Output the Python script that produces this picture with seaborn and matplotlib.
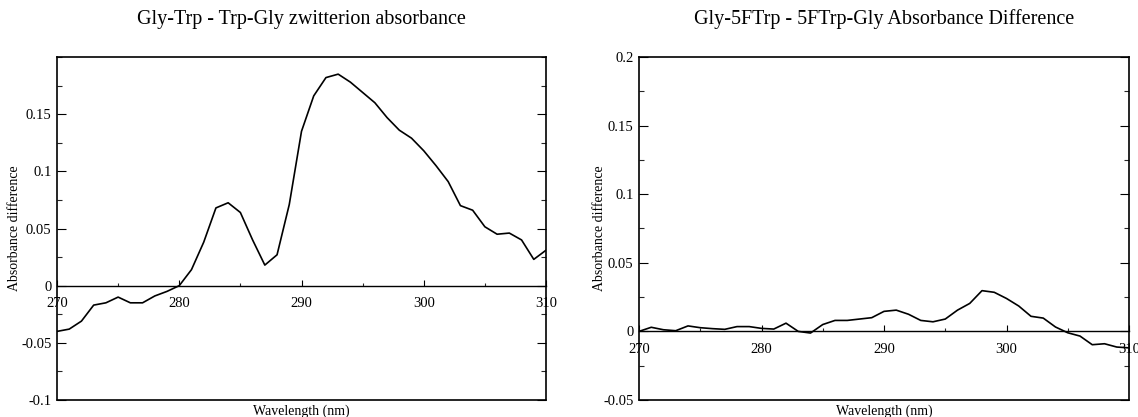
import numpy as np
import pandas as pd
import matplotlib
matplotlib.use("Agg")
import matplotlib.pyplot as plt
from matplotlib.ticker import MultipleLocator
import seaborn as sns

wavelength = list(range(270, 311))

trp_diff = [-0.040, -0.038, -0.031, -0.017, -0.015, -0.010, -0.015, -0.015, -0.009, -0.005,
            0.000, 0.014, 0.038, 0.068, 0.0725, 0.064, 0.040, 0.018, 0.027, 0.071,
            0.135, 0.166, 0.182, 0.185, 0.178, 0.169, 0.160, 0.147, 0.136, 0.129,
            0.118, 0.105, 0.091, 0.070, 0.066, 0.0515, 0.045, 0.046, 0.040, 0.023, 0.031]

ftrp_diff = [0.000, 0.003, 0.0012, 0.0005, 0.004, 0.0027, 0.002, 0.0015, 0.0035, 0.0035,
             0.0022, 0.0017, 0.006, 0.000, -0.0012, 0.005, 0.008, 0.008, 0.009, 0.010,
             0.0146, 0.0155, 0.0125, 0.008, 0.007, 0.009, 0.0155, 0.0204, 0.0297, 0.0285,
             0.024, 0.0185, 0.011, 0.0097, 0.0032, -0.001, -0.0034, -0.0097, -0.009, -0.0114, -0.012]

titles = ["Gly-Trp - Trp-Gly zwitterion absorbance",
          "Gly-5FTrp - 5FTrp-Gly Absorbance Difference"]
ylims = [(-0.1, 0.2), (-0.05, 0.2)]
yticks_major = [[-0.1, -0.05, 0, 0.05, 0.1, 0.15], [-0.05, 0, 0.05, 0.1, 0.15, 0.2]]
xticks_major = [270, 280, 290, 300, 310]

sns.set_theme(style="ticks")
plt.rcParams['font.family'] = ['Liberation Serif', 'DejaVu Serif']

fig = plt.figure(figsize=(11.38, 4.17), dpi=100)
W, H = 1138, 417
positions = [[57 / W, 17 / H, 489 / W, 343 / H], [639 / W, 17 / H, 490 / W, 343 / H]]
ylabel_x = [-0.074, -0.067]

for i, series in enumerate([trp_diff, ftrp_diff]):
    ax = fig.add_axes(positions[i])
    df = pd.DataFrame({"wl": wavelength, "val": series})
    sns.lineplot(data=df, x="wl", y="val", ax=ax, color="black", linewidth=1.2)
    ax.set_xlim(270, 310)
    ax.set_ylim(*ylims[i])
    for s in ["top", "right", "left"]:
        ax.spines[s].set_color("black")
        ax.spines[s].set_linewidth(1.2)
    ax.spines["bottom"].set_position(("data", 0))
    ax.spines["bottom"].set_color("black")
    ax.spines["bottom"].set_linewidth(1.0)
    ax.plot([0, 1], [0, 0], transform=ax.transAxes, color="black", lw=1.2, clip_on=False)
    ax.set_xticks(xticks_major)
    ax.set_xticklabels([str(v) for v in xticks_major])
    ax.xaxis.set_minor_locator(MultipleLocator(5))
    ax.set_yticks(yticks_major[i])
    ylabels = ["0" if v == 0 else f"{v:g}" for v in yticks_major[i]]
    ax.set_yticklabels(ylabels)
    ax.yaxis.set_minor_locator(MultipleLocator(0.025))
    ax.tick_params(axis="x", which="major", direction="in", length=4, width=0.8,
                   labelsize=10.5, pad=8, colors="black", top=False, bottom=True)
    ax.tick_params(axis="x", which="minor", direction="in", length=2.5, width=0.8,
                   top=False, bottom=True)
    ax.tick_params(axis="y", which="major", direction="in", length=6.5, width=0.8,
                   labelsize=10.5, pad=4, colors="black", left=True, right=True)
    ax.tick_params(axis="y", which="minor", direction="in", length=3.5, width=0.8,
                   left=True, right=True)
    ax.set_xlabel("Wavelength (nm)", fontsize=10, labelpad=0, color="black")
    ax.xaxis.set_label_coords(0.5, -0.014)
    ax.set_ylabel("Absorbance difference", fontsize=10, color="black")
    ax.yaxis.set_label_coords(ylabel_x[i], 0.5)
    ax.set_title(titles[i], fontsize=14.5, pad=24, color="black")

fig.savefig("out.png", dpi=100)
